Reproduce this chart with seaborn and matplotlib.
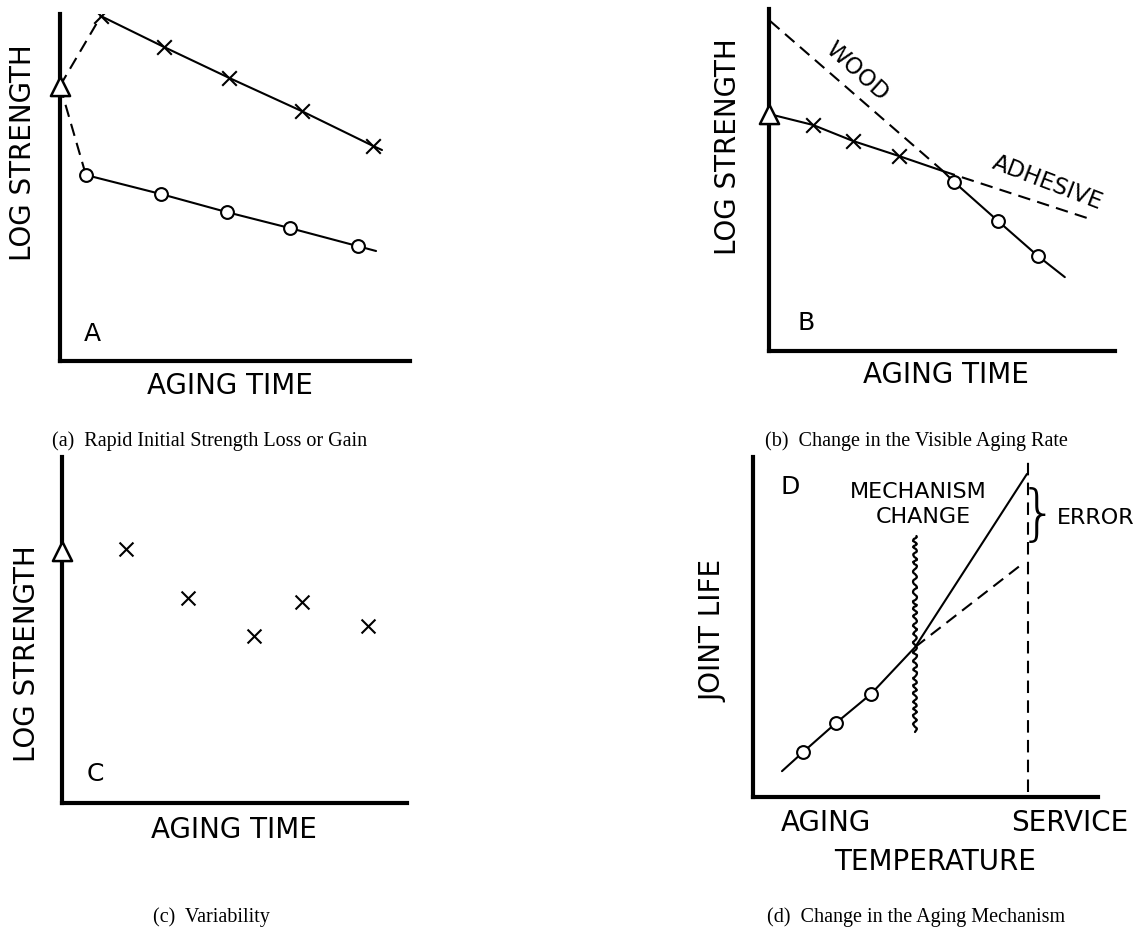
import matplotlib
matplotlib.use("Agg")
import matplotlib.pyplot as plt
import seaborn as sns

sns.set_style("white")
plt.rcParams["font.family"] = ["DejaVu Sans"]
plt.rcParams["text.color"] = "black"

W, H = 1137, 929

# ---- data (arbitrary 0-10 units) ----
# panel A: rapid initial loss or gain
a_start = (0.0, 7.93)
a_gain_time = [1.17, 2.97, 4.83, 6.91, 8.94]
a_gain_str = [9.94, 9.05, 8.16, 7.20, 6.20]
a_gain_end = (9.2, 6.08)
a_loss_time = [0.74, 2.89, 4.77, 6.57, 8.51]
a_loss_str = [5.36, 4.81, 4.29, 3.83, 3.31]
a_loss_end = (9.03, 3.17)

# panel B: change in visible aging rate
b_start = (0.0, 6.93)
b_adh_time = [1.27, 2.43, 3.76]
b_adh_str = [6.61, 6.14, 5.70]
b_knee = (5.03, 5.26)
b_wood_time = [5.35, 6.62, 7.77]
b_wood_str = [4.94, 3.80, 2.78]
b_wood_end = (8.55, 2.16)
b_wood_top = (0.03, 9.65)
b_adh_end = (9.28, 3.86)

# panel C: variability
c_start = (0.0, 7.28)
c_time = [1.86, 3.65, 5.57, 6.96, 8.87]
c_str = [7.34, 5.92, 4.83, 5.81, 5.12]

# panel D: change in aging mechanism
d_line_start = (0.84, 0.76)
d_temp = [1.45, 2.41, 3.42]
d_life = [1.32, 2.18, 3.03]
d_change = (4.70, 4.41)
d_true_end = (7.94, 9.50)
d_extrap_end = (7.80, 6.85)
d_service = 7.97
d_service_span = (0.15, 9.94)
d_wave_span = (1.91, 7.68)

fig = plt.figure(figsize=(W / 100, H / 100), dpi=100)


def panel(x0, yb, w, h):
    ax = fig.add_axes([x0 / W, 1 - yb / H, w / W, h / H])
    ax.set_xlim(0, 10)
    ax.set_ylim(0, 10)
    sns.despine(ax=ax)
    for s in ["left", "bottom"]:
        ax.spines[s].set_linewidth(3)
        ax.spines[s].set_color("black")
    ax.set_xticks([])
    ax.set_yticks([])
    return ax


def line(ax, xs, ys, dashed=False, lw=1.5):
    sns.lineplot(x=xs, y=ys, ax=ax, color="black", lw=lw, sort=False,
                 estimator=None, linestyle=(0, (6, 3.5)) if dashed else "-")
    ax.set_xlabel("")
    ax.set_ylabel("")


def circles(ax, xs, ys):
    sns.scatterplot(x=xs, y=ys, ax=ax, marker="o", s=85, facecolor="white",
                    edgecolor="black", linewidth=1.5, zorder=4)


def crosses(ax, xs, ys, s=110):
    sns.scatterplot(x=xs, y=ys, ax=ax, marker="x", s=s, color="black",
                    linewidth=1.5, zorder=4)


def triangle(ax, pt):
    sns.scatterplot(x=[pt[0]], y=[pt[1]], ax=ax, marker="^", s=190,
                    facecolor="white", edgecolor="black", linewidth=1.8,
                    zorder=5, clip_on=False)


def ftext(x, y, s, **kw):
    kw.setdefault("fontsize", 20)
    fig.text(x / W, 1 - y / H, s, ha="center", va="center", **kw)


# ---------- A ----------
axA = panel(60, 362, 350, 347)
line(axA, [a_start[0], a_gain_time[0]], [a_start[1], a_gain_str[0]], dashed=True)
line(axA, [a_start[0], a_loss_time[0]], [a_start[1], a_loss_str[0]], dashed=True)
line(axA, a_gain_time + [a_gain_end[0]], a_gain_str + [a_gain_end[1]])
line(axA, a_loss_time + [a_loss_end[0]], a_loss_str + [a_loss_end[1]])
crosses(axA, a_gain_time, a_gain_str)
circles(axA, a_loss_time, a_loss_str)
triangle(axA, a_start)
axA.text(0.92, 0.82, "A", fontsize=18, ha="center", va="center")
ftext(23, 153, "LOG STRENGTH", rotation=90)
ftext(230, 386, "AGING TIME")

# ---------- B ----------
axB = panel(769, 352, 346, 342)
line(axB, [b_wood_top[0], b_knee[0]], [b_wood_top[1], b_knee[1]], dashed=True)
line(axB, [b_knee[0], b_adh_end[0]], [b_knee[1], b_adh_end[1]], dashed=True)
line(axB, [b_start[0]] + b_adh_time + [b_knee[0]] + b_wood_time + [b_wood_end[0]],
     [b_start[1]] + b_adh_str + [b_knee[1]] + b_wood_str + [b_wood_end[1]])
crosses(axB, b_adh_time, b_adh_str)
circles(axB, b_wood_time, b_wood_str)
triangle(axB, b_start)
axB.text(2.54, 8.19, "WOOD", fontsize=16.5, rotation=-42,
         rotation_mode="anchor", ha="center", va="center")
axB.text(8.06, 4.94, "ADHESIVE", fontsize=16.5, rotation=-21,
         rotation_mode="anchor", ha="center", va="center")
axB.text(1.07, 0.85, "B", fontsize=18, ha="center", va="center")
ftext(728, 147, "LOG STRENGTH", rotation=90)
ftext(946, 375, "AGING TIME")

# ---------- C ----------
axC = panel(62, 804, 345, 346)
crosses(axC, c_time, c_str, s=100)
triangle(axC, c_start)
axC.text(0.96, 0.87, "C", fontsize=18, ha="center", va="center")
ftext(27, 654, "LOG STRENGTH", rotation=90)
ftext(234, 830, "AGING TIME")

# ---------- D ----------
axD = panel(753, 798, 345, 340)
line(axD, [d_line_start[0]] + d_temp + [d_change[0], d_true_end[0]],
     [d_line_start[1]] + d_life + [d_change[1], d_true_end[1]])
line(axD, [d_change[0], d_extrap_end[0]], [d_change[1], d_extrap_end[1]], dashed=True)
line(axD, [d_service, d_service], list(d_service_span), dashed=True)
line(axD, [d_change[0], d_change[0]], list(d_wave_span), lw=1.6)
axD.lines[-1].set_sketch_params(scale=2.0, length=9, randomness=2)
circles(axD, d_temp, d_life)
axD.text(1.07, 9.15, "D", fontsize=18, ha="center", va="center")
axD.text(4.78, 9.0, "MECHANISM", fontsize=16, ha="center", va="center")
axD.text(4.93, 8.26, "CHANGE", fontsize=16, ha="center", va="center")
axD.text(8.27, 8.29, "}", fontsize=44, ha="center", va="center",
         fontweight="light")
axD.text(8.80, 8.24, "ERROR", fontsize=16, ha="left", va="center")
ftext(713, 631, "JOINT LIFE", rotation=90)
ftext(826, 823, "AGING")
ftext(1070, 823, "SERVICE")
ftext(935, 862, "TEMPERATURE")

# ---------- captions ----------
cap = dict(fontsize=14.5, family=["Liberation Serif", "DejaVu Serif"])
ftext(210, 441, "(a)  Rapid Initial Strength Loss or Gain", **cap)
ftext(916, 441, "(b)  Change in the Visible Aging Rate", **cap)
ftext(211, 917, "(c)  Variability", **cap)
ftext(916, 917, "(d)  Change in the Aging Mechanism", **cap)

fig.savefig("out.png", dpi=100)
